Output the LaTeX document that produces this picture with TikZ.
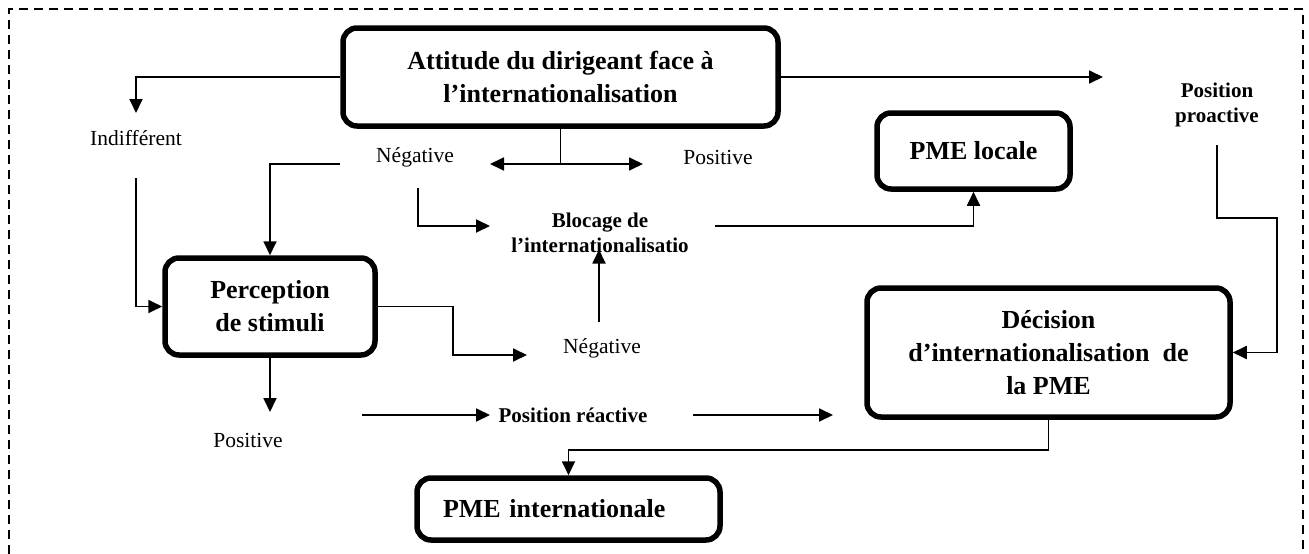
\documentclass[tikz,border=0pt]{standalone}
\usepackage{fontspec}
\setmainfont{Liberation Serif}
\usetikzlibrary{arrows.meta,calc}
\begin{document}
\begin{tikzpicture}[x=1pt,y=-1pt,
  box/.style={draw,line width=5.5pt,rounded corners=14pt,align=center,inner sep=0pt,
    font=\bfseries\fontsize{26}{33}\selectfont},
  lbl/.style={inner sep=0pt,font=\fontsize{21.5}{25}\selectfont},
  blbl/.style={inner sep=0pt,align=center,font=\bfseries\fontsize{21}{25}\selectfont},
  conn/.style={line width=1.8pt},
  arr/.style={conn,-{Triangle[length=14pt,width=13pt]}},
  dblarr/.style={conn,{Triangle[length=14pt,width=13pt]}-{Triangle[length=14pt,width=13pt]}},
  frame/.style={line width=1.6pt,dash pattern=on 9pt off 6pt}]
\useasboundingbox (0,0) rectangle (1309,554);

% open dashed frame
\draw[frame] (9,554) -- (9,9) -- (1303,9) -- (1303,554);

% boxes
\node[box,minimum width=435pt,minimum height=98pt] (att) at (560.5,77)
  {Attitude du dirigeant face à\\l’internationalisation};
\node[box,minimum width=210pt,minimum height=97pt] (perc) at (270,306.5)
  {Perception\\de stimuli};
\node[box,minimum width=193pt,minimum height=76pt] (loc) at (973.5,151) {PME locale};
\node[box,minimum width=363pt,minimum height=129pt] (dec) at (1048.5,352.5)
  {Décision\\d’internationalisation\ \ de\\la PME};
\node[box,minimum width=303pt,minimum height=62pt,text width=251pt,inner xsep=26pt,align=left]
  (intl) at (568.5,509) {PME internationale};

% free labels
\node[lbl] (ind) at (136,138) {Indifférent};
\node[lbl] (negA) at (415,157) {Négative};
\node[lbl] (posA) at (718,157) {Positive};
\node[blbl] (bloc) at (600,232.5) {Blocage de\\l’internationalisatio};
\node[blbl] (pro) at (1217,104.5) {Position\\proactive};
\node[lbl] (negB) at (602,348) {Négative};
\node[lbl] (posB) at (248,440) {Positive};
\node[blbl] (rea) at (573,415) {Position réactive};

% connectors
\draw[arr] (att.west) -| ($(ind)+(0,-25)$);
\draw[arr] ($(ind)+(0,40)$) |- (perc.west);
\draw[arr] ($(negA)+(-75,7)$) -| (perc.north);
\draw[arr] ($(negA)+(3,31)$) |- ($(bloc)+(-110,-6.5)$);
\draw[conn] (att.south) -- ($(att.south |- negA)+(0,7)$);
\draw[dblarr] ($(negA)+(75,7)$) -- ($(posA)+(-75,7)$);
\draw[arr] ($(bloc)+(115,-6.5)$) -| (loc.south);
\draw[arr] (att.east) -- ($(pro)+(-114,-27.5)$);
\draw[arr] ($(pro)+(0,40.5)$) -- ($(pro)+(0,113.5)$) -- ($(pro)+(60,113.5)$) |- (dec.east);
\draw[arr] (perc.east) -- ++(75,0) |- ($(negB)+(-75,7)$);
\draw[arr] ($(negB)+(-3,-26)$) -- ($(bloc)+(-1,17)$);
\draw[arr] (perc.south) -- ($(posB)+(22,-28)$);
\draw[arr] ($(rea)+(-211,0)$) -- ($(rea)+(-83,0)$);
\draw[arr] ($(rea)+(120,0)$) -- ($(rea)+(260,0)$);
\draw[arr] (dec.south) -- ++(0,30) -| (intl.north);
\end{tikzpicture}
\end{document}
